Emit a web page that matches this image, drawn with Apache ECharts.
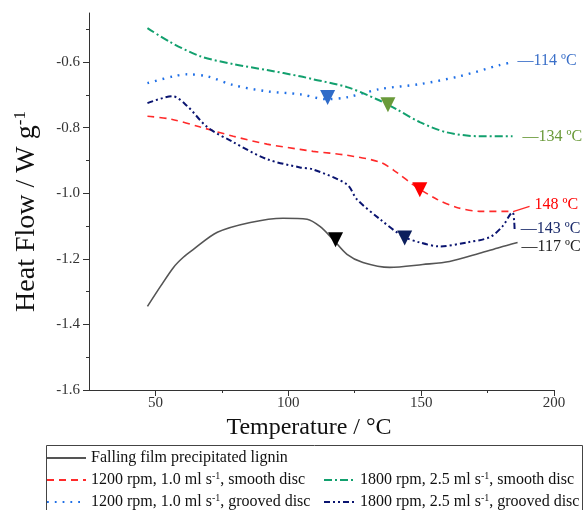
<!DOCTYPE html>
<html><head><meta charset="utf-8">
<script src="https://cdn.jsdelivr.net/npm/echarts@6/dist/echarts.min.js"></script>
<style>html,body{margin:0;padding:0;background:#fff}#c{width:585px;height:510px}</style>
</head><body><div id="c"></div>
<script>
// ---- data ----
const nameFalling = 'Falling film precipitated lignin';
const nameRed = '1200 rpm, 1.0 ml s-1, smooth disc';
const nameBlue = '1200 rpm, 1.0 ml s-1, grooved disc';
const nameGreen = '1800 rpm, 2.5 ml s-1, smooth disc';
const nameNavy = '1800 rpm, 2.5 ml s-1, grooved disc';

const fallingT = [47, 51.9, 56.8, 60.5, 64.3, 73.3, 85.7, 98.0, 107.1, 111.9, 116.8, 122.1, 128.1, 138.2, 150.6, 160.7, 172.0, 179.5, 186.3];
const fallingV = [-1.345, -1.284, -1.226, -1.195, -1.171, -1.119, -1.089, -1.076, -1.079, -1.101, -1.140, -1.186, -1.211, -1.226, -1.217, -1.208, -1.183, -1.165, -1.150];

const redT = [47, 56, 66.9, 79.3, 92.0, 104.4, 109.3, 122.1, 134.5, 140.8, 146.8, 155.9, 163.4, 172.0, 184.4];
const redV = [-0.765, -0.774, -0.798, -0.826, -0.850, -0.866, -0.872, -0.884, -0.905, -0.936, -0.973, -1.018, -1.043, -1.055, -1.055];

const greenT = [47, 55.6, 66.9, 79.3, 92.0, 104.4, 109.3, 122.1, 133.3, 140.8, 149.5, 159.6, 172.0, 184.4];
const greenV = [-0.496, -0.539, -0.582, -0.606, -0.624, -0.643, -0.652, -0.676, -0.713, -0.744, -0.783, -0.814, -0.826, -0.826];

const blueT = [47, 56.8, 62.0, 69.5, 79.3, 92.0, 104.4, 114.6, 122.1, 134.5, 149.5, 164.5, 179.5, 184.4];
const blueV = [-0.664, -0.643, -0.637, -0.643, -0.670, -0.689, -0.698, -0.713, -0.707, -0.682, -0.667, -0.643, -0.609, -0.600];

const navyT = [47, 56.4, 62.0, 69.5, 79.3, 92.0, 104.4, 109.3, 122.1, 125.8, 134.5, 143.1, 149.5, 157.0, 167.1, 175.8, 180.6, 184.4, 185.0, 185.2];
const navyV = [-0.725, -0.704, -0.734, -0.798, -0.844, -0.896, -0.921, -0.927, -0.973, -1.018, -1.079, -1.131, -1.150, -1.162, -1.150, -1.134, -1.101, -1.058, -1.085, -1.116];

// transition markers (down triangles): blue, green, red, navy, black
const markerT = [114.8, 137.5, 149.5, 143.8, 117.8];
const markerV = [-0.708, -0.730, -0.989, -1.136, -1.142];

// end annotations
const labelFalling = '—117 ºC';
const labelRed = '148 ºC';
const labelGreen = '—134 ºC';
const labelBlue = '—114 ºC';
const labelNavy = '—143 ºC';
const redLeaderT = [184.6, 190.8];
const redLeaderV = [-1.056, -1.040];

const xMajorTicks = [50, 100, 150, 200];
const xMinorTicks = [75, 125, 175];
const yMajorTicks = [-1.6, -1.4, -1.2, -1.0, -0.8, -0.6];
const yMinorTicks = [-1.5, -1.3, -1.1, -0.9, -0.7, -0.5];

// ---- styling ----
const F = '"Liberation Serif", "Times New Roman", serif';
const markerColors = ['#2f6bc8', '#6a9a3a', '#ff0000', '#0c1f5c', '#000000'];
const zip = (a, b) => a.map((v, i) => [v, b[i]]);
const supFmt = n => n.replace('s-1', 's{sup|-1}');

function lineSeries(name, T, V, color, width, type, endText, dist, off, labelColor, more) {
  const s = {
    name: name, type: 'line', data: zip(T, V), showSymbol: false, symbol: 'none',
    smooth: 0.3, silent: true, z: 3,
    lineStyle: { color: color, width: width, type: type, cap: 'butt' },
    itemStyle: { color: color },
    endLabel: { show: true, formatter: endText, color: labelColor, fontFamily: F, fontSize: 16,
      distance: dist, offset: off }
  };
  return Object.assign(s, more || {});
}

const chart = echarts.init(document.getElementById('c'), null, { renderer: 'canvas' });

const legendText = {
  fontFamily: F, fontSize: 16, color: '#111', lineHeight: 18,
  rich: { sup: { fontFamily: F, fontSize: 10, lineHeight: 10, verticalAlign: 'top', color: '#111' } }
};
const legendCommon = {
  padding: 0, itemHeight: 14, itemGap: 4, selectedMode: false,
  textStyle: legendText, formatter: supFmt, orient: 'vertical', height: 60,
  itemStyle: { opacity: 0, borderWidth: 0 }
};

const option = {
  animation: false,
  backgroundColor: '#fff',
  grid: { left: 89, right: 31, top: 13, bottom: 120, containLabel: false, outerBoundsMode: 'none' },
  xAxis: [
    {
      type: 'value', min: 25, max: 200, position: 'bottom',
      axisLine: { onZero: false, lineStyle: { color: '#333', width: 1 } },
      axisTick: { customValues: xMajorTicks, length: 6, lineStyle: { color: '#333' } },
      axisLabel: { customValues: xMajorTicks, margin: 6, fontSize: 15, fontFamily: F, color: '#333' },
      splitLine: { show: false },
      name: 'Temperature / °C', nameLocation: 'middle', nameGap: 25,
      nameTextStyle: { fontSize: 24, fontFamily: F, color: '#111', padding: [0, 25, 0, 0] }
    },
    {
      type: 'value', min: 25, max: 200, position: 'bottom',
      axisLine: { show: false, onZero: false },
      axisTick: { customValues: xMinorTicks, length: 3, lineStyle: { color: '#333' } },
      axisLabel: { show: false }, splitLine: { show: false }
    }
  ],
  yAxis: [
    {
      type: 'value', min: -1.6, max: -0.45, position: 'left',
      axisLine: { show: true, onZero: false, lineStyle: { color: '#333', width: 1 } },
      axisTick: { show: true, customValues: yMajorTicks, length: 6, lineStyle: { color: '#333' } },
      axisLabel: { customValues: yMajorTicks, margin: 9, fontSize: 15, fontFamily: F, color: '#333',
        formatter: v => v.toFixed(1) },
      splitLine: { show: false },
      name: 'Heat Flow / W g{sup|-1}', nameLocation: 'middle', nameGap: 47,
      nameTextStyle: { fontSize: 28, fontFamily: F, color: '#111', lineHeight: 30, padding: [0, 20, 0, 0],
        rich: { sup: { fontFamily: F, fontSize: 17, lineHeight: 17, verticalAlign: 'top', color: '#111' } } }
    },
    {
      type: 'value', min: -1.6, max: -0.45, position: 'left',
      axisLine: { show: false, onZero: false },
      axisTick: { show: true, customValues: yMinorTicks, length: 3, lineStyle: { color: '#333' } },
      axisLabel: { show: false }, splitLine: { show: false }
    }
  ],
  legend: [
    Object.assign({}, legendCommon, { data: [nameFalling], left: 46, top: 449, itemWidth: 39 }),
    Object.assign({}, legendCommon, { data: [nameRed, nameBlue], left: 46, top: 471, itemWidth: 39 }),
    Object.assign({}, legendCommon, { data: [nameGreen, nameNavy], left: 323, top: 471, itemWidth: 31 })
  ],
  graphic: [
    { type: 'rect', silent: true, shape: { x: 46.5, y: 445.5, width: 536, height: 80 },
      style: { fill: 'none', stroke: '#444', lineWidth: 1 } }
  ],
  series: [
    lineSeries(nameFalling, fallingT, fallingV, '#555555', 1.6, 'solid', labelFalling, 4, [0, 4], '#222'),
    lineSeries(nameRed, redT, redV, '#ff2a2a', 1.6, [7, 5], labelRed, 22, [0, -7], '#ff0000', {
      markLine: { silent: true, symbol: 'none', label: { show: false },
        lineStyle: { color: '#ff2a2a', type: 'solid', width: 1.2 },
        data: [[{ coord: [redLeaderT[0], redLeaderV[0]] }, { coord: [redLeaderT[1], redLeaderV[1]] }]] }
    }),
    lineSeries(nameBlue, blueT, blueV, '#1f6fe6', 2.4, [1.8, 6], labelBlue, 5, [0, -1], '#3a6fc8'),
    lineSeries(nameGreen, greenT, greenV, '#12a06e', 2, [8, 3, 2, 3], labelGreen, 10, [0, 1], '#6a9a3a'),
    lineSeries(nameNavy, navyT, navyV, '#0a1470', 2, [6, 3, 2, 3, 2, 3], labelNavy, 6, [0, -3], '#1a2a6a'),
    {
      name: 'markers', type: 'scatter', silent: true, z: 5,
      symbol: 'triangle', symbolRotate: 180, symbolSize: 15,
      data: markerT.map((t, i) => ({ value: [t, markerV[i]], itemStyle: { color: markerColors[i], opacity: 1 } }))
    }
  ]
};
chart.setOption(option);
</script>
</body></html>
